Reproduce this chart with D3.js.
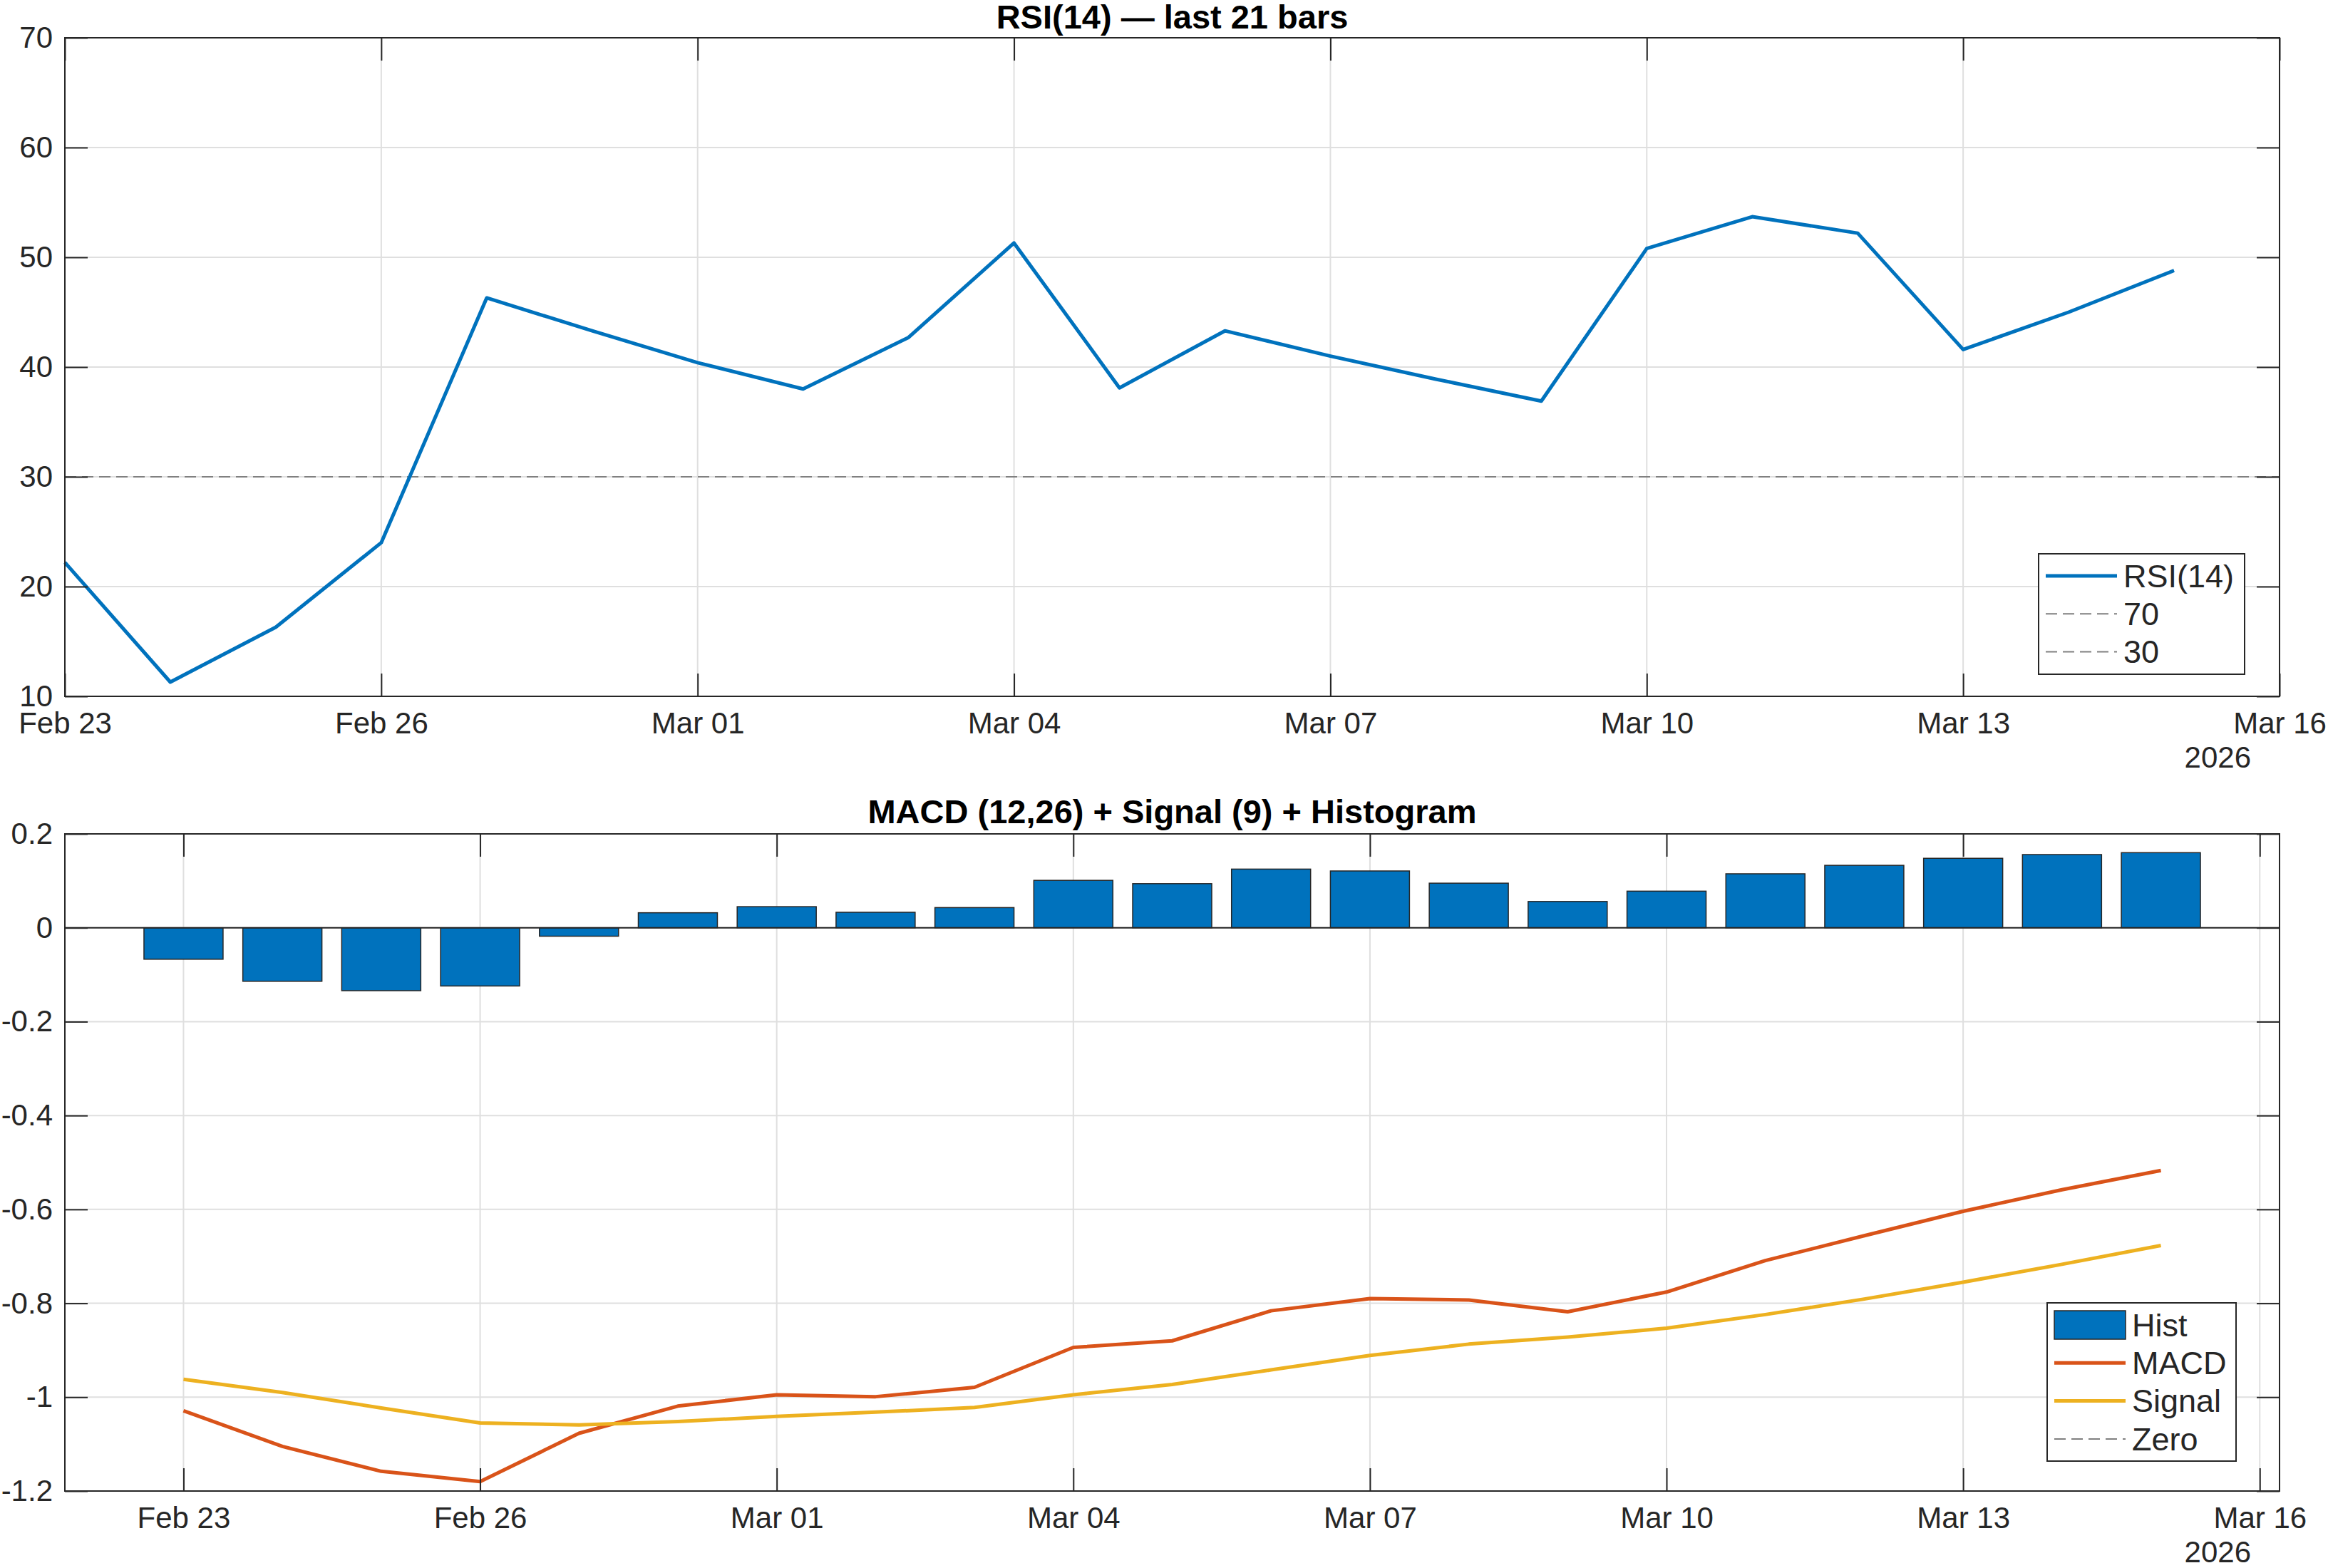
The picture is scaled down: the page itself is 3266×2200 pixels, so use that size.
<!DOCTYPE html>
<html>
<head>
<meta charset="utf-8">
<script src="https://cdn.jsdelivr.net/npm/d3@7"></script>
<style>
  body { margin: 0; background: #fff; }
  svg { display: block; font-family: "Liberation Sans", Arial, Helvetica, sans-serif; }
  .tick text { fill: #262626; }
</style>
</head>
<body>
<svg id="chart"></svg>
<script>
const dates = ["2026-02-23","2026-02-24","2026-02-25","2026-02-26","2026-02-27","2026-02-28",
  "2026-03-01","2026-03-02","2026-03-03","2026-03-04","2026-03-05","2026-03-06","2026-03-07",
  "2026-03-08","2026-03-09","2026-03-10","2026-03-11","2026-03-12","2026-03-13","2026-03-14","2026-03-15"];
const rsi = [22.2, 11.3, 16.3, 24.0, 46.3, 43.3, 40.4, 38.0, 42.7, 51.3, 38.1,
  43.3, 41.0, 38.9, 36.9, 50.8, 53.7, 52.2, 41.6, 45.0, 48.8];
const hist = [-0.067, -0.114, -0.134, -0.124, -0.018, 0.032, 0.045, 0.033, 0.043, 0.101, 0.094,
  0.125, 0.121, 0.095, 0.056, 0.078, 0.115, 0.133, 0.148, 0.156, 0.160];
const macd = [-1.029, -1.105, -1.158, -1.180, -1.077, -1.019, -0.995, -0.999, -0.979, -0.894, -0.880,
  -0.816, -0.790, -0.793, -0.818, -0.776, -0.709, -0.656, -0.604, -0.558, -0.517];
const signal = [-0.962, -0.990, -1.023, -1.055, -1.059, -1.052, -1.041, -1.032, -1.022, -0.995, -0.973,
  -0.942, -0.911, -0.887, -0.872, -0.853, -0.824, -0.791, -0.755, -0.717, -0.677];

const xTickDates = ["2026-02-23","2026-02-26","2026-03-01","2026-03-04","2026-03-07","2026-03-10","2026-03-13","2026-03-16"];
const xTickLabels = ["Feb 23","Feb 26","Mar 01","Mar 04","Mar 07","Mar 10","Mar 13","Mar 16"];
const rsiTicks = [10, 20, 30, 40, 50, 60, 70];
const rsiLevels = [70, 30];
const macdTicks = [-1.2, -1, -0.8, -0.6, -0.4, -0.2, 0, 0.2];
const macdTickLabels = ["-1.2", "-1", "-0.8", "-0.6", "-0.4", "-0.2", "0", "0.2"];
const yearLabel = "2026";

const W = 3266, H = 2200;
const C = { blue: "#0072BD", orange: "#D95319", yellow: "#EDB120", gray: "#808080",
            ink: "#262626", grid: "#dfdfdf" };
const DAY = 864e5;
const parse = s => new Date(s + "T00:00:00Z");
const dts = dates.map(parse);
const tickDts = xTickDates.map(parse);

const svg = d3.select("#chart").attr("width", W).attr("height", H);

function frame(g, x, y, box, yTickVals) {
  const [L, R, T, B] = box;
  // grid
  g.append("g").selectAll("line").data(tickDts).join("line")
    .attr("x1", d => x(d)).attr("x2", d => x(d)).attr("y1", T).attr("y2", B)
    .attr("stroke", C.grid).attr("stroke-width", 2);
  g.append("g").selectAll("line").data(yTickVals).join("line")
    .attr("x1", L).attr("x2", R).attr("y1", d => y(d)).attr("y2", d => y(d))
    .attr("stroke", C.grid).attr("stroke-width", 2);
}

function axes(g, x, y, box, yTickVals, yFmt) {
  const [L, R, T, B] = box;
  const fmt = d => xTickLabels[tickDts.findIndex(t => +t === +d)];
  const xb = g.append("g").attr("transform", `translate(0,${B})`)
    .call(d3.axisBottom(x).tickValues(tickDts).tickFormat(fmt).tickSizeInner(-32).tickSizeOuter(0).tickPadding(22));
  const xt = g.append("g").attr("transform", `translate(0,${T})`)
    .call(d3.axisTop(x).tickValues(tickDts).tickFormat("").tickSizeInner(-32).tickSizeOuter(0));
  const yl = g.append("g").attr("transform", `translate(${L},0)`)
    .call(d3.axisLeft(y).tickValues(yTickVals).tickFormat(yFmt).tickSizeInner(-32).tickSizeOuter(0).tickPadding(17));
  const yr = g.append("g").attr("transform", `translate(${R},0)`)
    .call(d3.axisRight(y).tickValues(yTickVals).tickFormat("").tickSizeInner(-32).tickSizeOuter(0));
  [xb, xt, yl, yr].forEach(a => {
    a.select(".domain").remove();
    a.selectAll(".tick line").attr("stroke", C.ink).attr("stroke-width", 2);
    a.selectAll(".tick text").style("font-size", "42px").attr("fill", C.ink);
  });
  g.append("rect").attr("x", L).attr("y", T).attr("width", R - L).attr("height", B - T)
    .attr("fill", "none").attr("stroke", C.ink).attr("stroke-width", 2);
  g.append("text").attr("x", R - 40).attr("y", B + 100).attr("text-anchor", "end")
    .style("font-size", "42px").attr("fill", C.ink).text(yearLabel);
}

function legend(g, x0, y0, w, h, rows) {
  g.append("rect").attr("x", x0).attr("y", y0).attr("width", w).attr("height", h)
    .attr("fill", "#fff").attr("stroke", C.ink).attr("stroke-width", 2);
  rows.forEach((r, i) => {
    const cy = y0 + 31 + i * 53.3;
    if (r.type === "patch") {
      g.append("rect").attr("x", x0 + 10).attr("y", cy - 20).attr("width", 100).attr("height", 40)
        .attr("fill", r.color).attr("stroke", C.ink).attr("stroke-width", 1.5);
    } else {
      g.append("line").attr("x1", x0 + 10).attr("x2", x0 + 110).attr("y1", cy).attr("y2", cy)
        .attr("stroke", r.color).attr("stroke-width", r.dash ? 2 : 5)
        .attr("stroke-dasharray", r.dash ? "16,8" : null);
    }
    g.append("text").attr("x", x0 + 119).attr("y", cy).attr("dy", "0.35em")
      .style("font-size", "45px").attr("fill", C.ink).text(r.label);
  });
}

// ---------- RSI panel ----------
const box1 = [91, 3198, 53, 977];
const x1 = d3.scaleUtc().domain([parse("2026-02-23"), parse("2026-03-16")]).range([box1[0], box1[1]]);
const y1 = d3.scaleLinear().domain([10, 70]).range([box1[3], box1[2]]);
const g1 = svg.append("g");
frame(g1, x1, y1, box1, rsiTicks);

g1.append("g").selectAll("line").data(rsiLevels).join("line")
  .attr("x1", box1[0]).attr("x2", box1[1]).attr("y1", d => y1(d)).attr("y2", d => y1(d))
  .attr("stroke", C.gray).attr("stroke-width", 2).attr("stroke-dasharray", "16,8");

g1.append("path").datum(rsi)
  .attr("fill", "none").attr("stroke", C.blue).attr("stroke-width", 5).attr("stroke-linejoin", "round")
  .attr("d", d3.line().x((d, i) => x1(dts[i])).y(d => y1(d)));

axes(g1, x1, y1, box1, rsiTicks, d => d);
g1.append("text").attr("x", (box1[0] + box1[1]) / 2).attr("y", 40).attr("text-anchor", "middle")
  .style("font-size", "47px").style("font-weight", "bold").attr("fill", "#000")
  .text("RSI(14) — last 21 bars");
legend(g1, 2860, 777, 289, 169, [
  { label: "RSI(14)", color: C.blue },
  { label: "70", color: C.gray, dash: true },
  { label: "30", color: C.gray, dash: true }
]);

// ---------- MACD panel ----------
const box2 = [91, 3198, 1170, 2092];
const x2 = d3.scaleUtc()
  .domain([new Date(+parse("2026-02-23") - 1.2 * DAY), new Date(+parse("2026-03-16") + 0.2 * DAY)])
  .range([box2[0], box2[1]]);
const y2 = d3.scaleLinear().domain([-1.2, 0.2]).range([box2[3], box2[2]]);
const g2 = svg.append("g");
frame(g2, x2, y2, box2, macdTicks);

const bw = x2(new Date(+dts[0] + 0.8 * DAY)) - x2(dts[0]);
g2.append("g").selectAll("rect").data(hist).join("rect")
  .attr("x", (d, i) => x2(dts[i]) - bw / 2).attr("width", bw)
  .attr("y", d => y2(Math.max(d, 0))).attr("height", d => Math.abs(y2(d) - y2(0)))
  .attr("fill", C.blue).attr("stroke", C.ink).attr("stroke-width", 1.5);

g2.append("line").attr("x1", box2[0]).attr("x2", box2[1]).attr("y1", y2(0)).attr("y2", y2(0))
  .attr("stroke", C.ink).attr("stroke-width", 2);

[[macd, C.orange], [signal, C.yellow]].forEach(([vals, col]) => {
  g2.append("path").datum(vals)
    .attr("fill", "none").attr("stroke", col).attr("stroke-width", 5).attr("stroke-linejoin", "round")
    .attr("d", d3.line().x((d, i) => x2(dts[i])).y(d => y2(d)));
});

axes(g2, x2, y2, box2, macdTicks, d => macdTickLabels[macdTicks.indexOf(d)]);
g2.append("text").attr("x", (box2[0] + box2[1]) / 2).attr("y", 1155).attr("text-anchor", "middle")
  .style("font-size", "47px").style("font-weight", "bold").attr("fill", "#000")
  .text("MACD (12,26) + Signal (9) + Histogram");
legend(g2, 2872, 1828, 265, 222, [
  { label: "Hist", color: C.blue, type: "patch" },
  { label: "MACD", color: C.orange },
  { label: "Signal", color: C.yellow },
  { label: "Zero", color: C.gray, dash: true }
]);
</script>
</body>
</html>
